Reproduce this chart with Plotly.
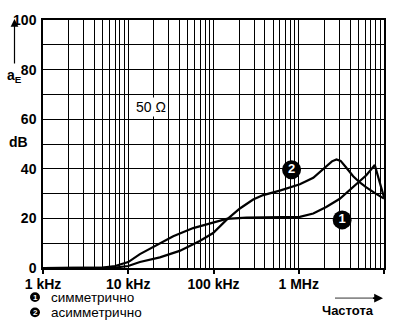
import numpy as np
import plotly.graph_objects as go

# Attenuation curves, frequency in Hz, attenuation in dB
freq_sym = [1e3, 3e3, 5e3, 7e3, 1e4, 1.37e4, 1.96e4, 3.37e4, 5.78e4, 9.9e4, 1.42e5,
            2.44e5, 5e5, 1.03e6, 1.48e6, 2.1e6, 3.03e6, 4.35e6, 6.2e6, 7.8e6, 1e7]
db_sym = [0, 0, 0.2, 0.8, 2.4, 5.6, 8.5, 12.8, 16.1, 18.5, 19.8,
          20.3, 20.3, 20.6, 22.0, 24.6, 27.9, 32.5, 37.4, 41.5, 28.5]

freq_asym = [1e3, 5e3, 7e3, 1e4, 1.37e4, 2.35e4, 4e4, 6.9e4, 9.9e4, 1.42e5, 2.04e5,
             2.92e5, 3.83e5, 6e5, 1.03e6, 1.48e6, 2.1e6, 2.45e6, 2.77e6, 3.1e6,
             3.5e6, 4.35e6, 5.2e6, 6.2e6, 8e6, 1e7]
db_asym = [0, 0, 0.2, 0.8, 2.4, 4.3, 6.9, 10.9, 14.1, 19.4, 24.0,
           27.6, 29.4, 31.2, 33.8, 36.4, 41.0, 43.0, 43.8, 43.2,
           41.0, 37.0, 34.5, 32.5, 30.0, 28.0]

# Curve number badges (frequency, dB, label)
badge_freq = [3.23e6, 8.24e5]
badge_db = [19.4, 39.6]
badge_text = ["1", "2"]

x_tickvals = [1e3, 1e4, 1e5, 1e6, 1e7]
x_ticktext = ["1 kHz", "10 kHz", "100 kHz", "1 MHz", "10 MHz"]
y_tickvals = [0, 20, 40, 60, 80, 100]
legend_names = ["симметрично", "асимметрично"]

W, H = 408, 327
ML, MR, MT, MB = 43, 24, 13, 59
PW, PH = W - ML - MR, H - MT - MB


def px(x):
    return (x - ML) / PW


def py(y):
    return (H - MB - y) / PH


def text_at(x, y, text, size=14, bold=True, anchor="center", color="black"):
    font = dict(family="Liberation Sans", size=size, color=color)
    if bold:
        font["weight"] = "bold"
    return dict(x=px(x), y=py(y), xref="paper", yref="paper", text=text,
                xanchor=anchor, yanchor="middle", showarrow=False, font=font)


minor_x = [m * 10 ** d for d in range(3, 7) for m in range(2, 10)]

fig = go.Figure()
for f, v in ((freq_sym, db_sym), (freq_asym, db_asym)):
    fig.add_trace(go.Scatter(x=f, y=v, mode="lines",
                             line=dict(color="black", width=2.2),
                             showlegend=False, hoverinfo="skip"))

fig.add_trace(go.Scatter(
    x=badge_freq, y=badge_db, mode="markers+text", text=badge_text,
    textposition="middle center",
    textfont=dict(family="Liberation Sans", size=13, color="white", weight="bold"),
    marker=dict(size=19, color="black"), showlegend=False, hoverinfo="skip"))

grid = dict(showgrid=True, gridcolor="black", gridwidth=1.3)
fig.update_xaxes(type="log", range=[3, 7], tickvals=x_tickvals, ticktext=x_ticktext,
                 ticks="outside", ticklen=4, tickcolor="black", tickwidth=1.5,
                 ticklabelstandoff=-2,
                 showline=True, linecolor="black", linewidth=2, mirror=True,
                 minor=dict(tickvals=minor_x, showgrid=True, gridcolor="black",
                            gridwidth=1.3, ticks=""),
                 tickfont=dict(family="Liberation Sans", size=14, color="black",
                               weight="bold"),
                 zeroline=False, **grid)
fig.update_yaxes(range=[0, 100], tickvals=y_tickvals,
                 showline=True, linecolor="black", linewidth=1.5, mirror=True,
                 minor=dict(dtick=10, showgrid=True, gridcolor="black",
                            gridwidth=1.3),
                 tickfont=dict(family="Liberation Sans", size=14, color="black",
                               weight="bold"),
                 ticklabelstandoff=2, zeroline=False, **grid)

ann = []
# Impedance note on the grid
ann.append(dict(x=np.log10(1.85e4), y=65, xref="x", yref="y", text="50 Ω",
                showarrow=False, bgcolor="white", borderpad=1,
                xanchor="center", yanchor="middle",
                font=dict(family="Liberation Sans", size=14, color="black")))
# Y axis caption and arrow
ann.append(text_at(14, 71, "a<sub>E</sub>"))
ann.append(text_at(19, 138, "dB"))
ann.append(dict(x=px(14.5), y=py(12), xref="paper", yref="paper",
                ax=0, ay=46, text="",
                showarrow=True, arrowhead=2, arrowsize=1.3, arrowwidth=1.2,
                arrowcolor="black"))
# Frequency caption and arrow: grey shaft, black head
shapes = [dict(type="line", xref="paper", yref="paper",
               x0=px(335), x1=px(372), y0=py(299), y1=py(299),
               line=dict(color="#8a8a8a", width=1.6))]
ann.append(dict(x=px(383), y=py(299), xref="paper", yref="paper",
                ax=-12, ay=0, text="",
                showarrow=True, arrowhead=2, arrowsize=1.1, arrowwidth=1.6,
                arrowcolor="black"))
ann.append(text_at(348, 312, "Частота", size=13))

for i, name in enumerate(legend_names):
    cy = 298 + i * 15.6
    shapes.append(dict(type="circle", xref="paper", yref="paper",
                       x0=px(30), x1=px(40), y0=py(cy + 5), y1=py(cy - 5),
                       fillcolor="black", line=dict(color="black", width=0)))
    ann.append(text_at(35, cy, str(i + 1), size=8, color="white"))
    ann.append(text_at(49, cy, name, size=13.5, bold=False, anchor="left"))

fig.update_layout(width=W, height=H, margin=dict(l=ML, r=MR, t=MT, b=MB),
                  plot_bgcolor="white", paper_bgcolor="white",
                  annotations=ann, shapes=shapes)
fig.write_html("out.html")
